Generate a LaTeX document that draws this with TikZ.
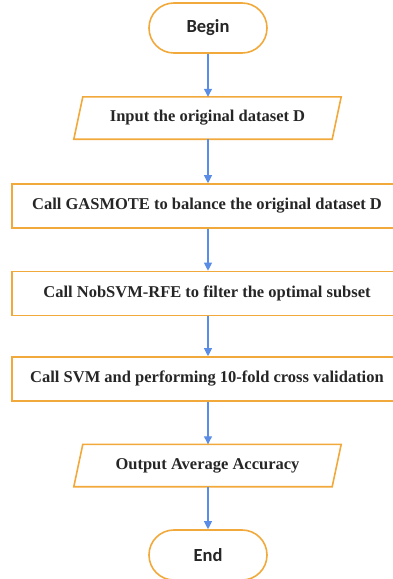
\documentclass[tikz,border=0pt]{standalone}
\usepackage{fontspec}
\setmainfont{Liberation Serif}
\newfontfamily\termfont{Carlito}
\usetikzlibrary{arrows.meta}
\definecolor{boxorange}{HTML}{F2A93B}
\definecolor{arrowblue}{HTML}{5B8DE6}
\tikzset{
  terminal/.style={draw=boxorange, line width=1.6pt, rounded corners=24.9pt, minimum width=118pt, minimum height=50pt, inner sep=0pt, font=\termfont\bfseries\fontsize{18.5}{20}\selectfont, text=black!85},
  procbox/.style={draw=boxorange, line width=1.6pt, minimum width=390pt, minimum height=44pt, inner sep=0pt, font=\bfseries\fontsize{16.5}{19}\selectfont, text=black!85},
  iobox/.style={minimum width=267pt, minimum height=42pt, inner sep=0pt, font=\bfseries\fontsize{16.5}{19}\selectfont, text=black!85},
  iooutline/.style={draw=boxorange, line width=1.6pt},
  flow/.style={draw=arrowblue, line width=1.1pt, -{Triangle[width=8pt,length=8pt]}}
}
\begin{document}
\begin{tikzpicture}[x=1pt,y=-1pt]
\useasboundingbox (0,0) rectangle (393,579);
\clip (0,0) rectangle (393,579);
\node[terminal] (begin) at (208,28) {Begin};
\node[iobox] (input) at (207.5,118) {Input the original dataset D};
\draw[iooutline] ([xshift=9pt]input.north west) -- (input.north east) -- ([xshift=-9pt]input.south east) -- (input.south west) -- cycle;
\node[procbox] (gas) at (207,206) {Call GASMOTE to balance the original dataset D};
\node[procbox] (nob) at (207,293.5) {Call NobSVM-RFE to filter the optimal subset};
\node[procbox] (svm) at (207,379) {Call SVM and performing 10-fold cross validation};
\node[iobox] (output) at (207.5,465.5) {Output Average Accuracy};
\draw[iooutline] ([xshift=9pt]output.north west) -- (output.north east) -- ([xshift=-9pt]output.south east) -- (output.south west) -- cycle;
\node[terminal] (end) at (208,555) {End};
\draw[flow] (begin.south) -- (begin.south |- input.north);
\draw[flow] (input.south -| begin) -- (begin |- gas.north);
\draw[flow] (gas.south -| begin) -- (begin |- nob.north);
\draw[flow] (nob.south -| begin) -- (begin |- svm.north);
\draw[flow] (svm.south -| begin) -- (begin |- output.north);
\draw[flow] (output.south -| begin) -- (end.north);
\end{tikzpicture}
\end{document}
